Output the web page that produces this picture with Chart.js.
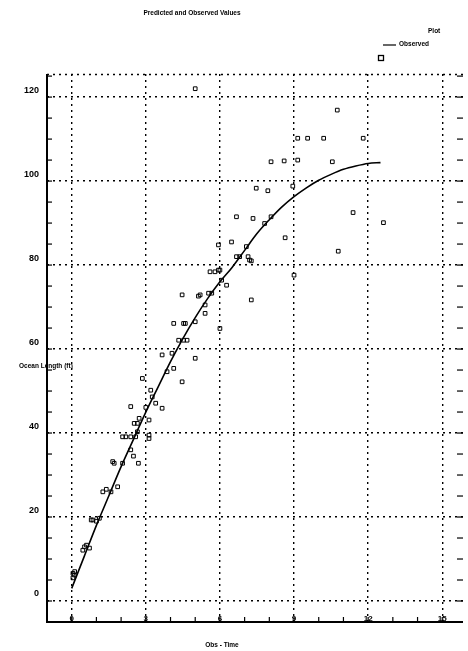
<!DOCTYPE html>
<html>
<head>
<meta charset="utf-8">
<script src="https://cdn.jsdelivr.net/npm/chart.js@4"></script>
<style>
html,body{margin:0;padding:0;background:#fff;}
#wrap{width:468px;height:651px;position:relative;}
</style>
</head>
<body>
<div id="wrap"><canvas id="c" width="468" height="651"></canvas></div>
<script>
// ---- data ----
const predX = [0,0.5,1,1.5,2,2.5,3,3.5,4,4.5,5,5.5,6,6.5,7,7.5,8,8.5,9,9.5,10,10.5,11,11.5,12,12.5];
const predY = [3,10.5,18,25,32,38.5,45,51,57,62.5,67.5,72,76,79.5,83.5,87.5,90.8,93.8,96.3,98.4,100.2,101.6,102.8,103.6,104.2,104.4];

const obsX = [0.05,0.05,0.12,0.1, 0.45,0.52,0.72,0.6, 0.79,0.86,1.12,1.0, 1.26,1.59,1.86,1.4,
  1.66,1.72,2.06,2.7,2.39,2.5, 2.06,2.19,2.39,2.59,3.13,3.13, 2.66,2.53,2.66,2.73,3.13,
  2.39,3.0,3.66, 3.4,3.26,3.2, 2.86,4.47, 3.86,4.13, 3.66,4.06,5.0, 4.33,4.53,4.67,
  4.13,4.53,4.6,5.0,6.0, 5.4,5.4, 4.47,5.13,5.2,5.54,5.67,7.27, 6.27,6.07,
  5.6,5.8,5.94,6.0,9.0, 7.27,7.14,6.67,6.8,7.2, 7.07,6.47,5.94, 8.64,10.79,
  7.81,12.62, 6.67,7.34,8.07,11.39, 7.47,7.94,8.95, 8.07,8.6,9.15,10.55,
  9.15,9.55,10.2,11.8, 10.75, 5.0];
const obsY = [5.5,6.6,7.0,6.2, 12.1,12.9,12.6,13.3, 19.3,19.3,19.7,19.0, 26.0,26.0,27.2,26.6,
  33.2,32.8,32.8,32.8,36.0,34.5, 39.1,39.1,39.1,39.1,38.7,39.5, 40.3,42.3,42.3,43.5,43.1,
  46.3,46.1,45.9, 47.1,48.6,50.2, 53.0,52.2, 54.6,55.4, 58.6,59.0,57.8, 62.1,62.1,62.1,
  66.1,66.1,66.1,66.5,64.9, 68.5,70.5, 72.9,72.6,72.9,73.3,73.3,71.7, 75.2,76.4,
  78.4,78.4,78.8,78.8,77.6, 81,82,82,82,81.2, 84.4,85.5,84.8, 86.5,83.3,
  89.9,90.1, 91.5,91.1,91.5,92.5, 98.3,97.7,98.8, 104.6,104.8,105,104.6,
  110.2,110.2,110.2,110.2, 116.9, 122];

const xTickValues = [0,3,6,9,12,15];
const yTickValues = [0,20,40,60,80,100,120];
const titleText = 'Predicted and Observed Values';
const legendTitle = 'Plot';
const legendLineLabel = 'Observed';
const xTitle = 'Obs - Time';
const yTitle = 'Ocean Length (ft)';

const FONT = '"Liberation Sans", Arial, sans-serif';

const lineData = predX.map((x,i)=>({x, y: predY[i]}));
const pointData = obsX.map((x,i)=>({x, y: obsY[i]}));

const decor = {
  id: 'decor',
  afterDraw(chart){
    const {ctx, chartArea:a, scales:{x,y}} = chart;
    ctx.save();
    ctx.strokeStyle = '#000';
    ctx.fillStyle = '#000';
    // top dotted border
    ctx.lineWidth = 1.4;
    ctx.setLineDash([2,4]);
    ctx.beginPath(); ctx.moveTo(a.left, a.top+0.5); ctx.lineTo(a.right, a.top+0.5); ctx.stroke();
    ctx.setLineDash([]);
    // axes
    ctx.lineWidth = 2;
    ctx.beginPath();
    ctx.moveTo(a.left, a.top); ctx.lineTo(a.left, a.bottom); ctx.lineTo(a.right, a.bottom);
    ctx.stroke();
    // minor ticks
    ctx.lineWidth = 1.2;
    for (let v = -1; v <= 15; v++) {
      const px = x.getPixelForValue(v);
      ctx.beginPath(); ctx.moveTo(px, a.bottom); ctx.lineTo(px, a.bottom - 5); ctx.stroke();
    }
    for (let v = -5; v <= 125; v += 5) {
      const py = y.getPixelForValue(v);
      ctx.beginPath(); ctx.moveTo(a.left, py); ctx.lineTo(a.left + 5, py); ctx.stroke();
      ctx.beginPath(); ctx.moveTo(a.right - 6, py); ctx.lineTo(a.right, py); ctx.stroke();
    }
    // x tick labels, sitting on the axis inside the plot
    ctx.font = 'bold 8px ' + FONT;
    ctx.textAlign = 'center';
    ctx.textBaseline = 'alphabetic';
    xTickValues.forEach(v => {
      ctx.fillText(String(v), x.getPixelForValue(v), a.bottom - 1);
    });
    // texts
    ctx.font = 'bold 6.5px ' + FONT;
    ctx.textBaseline = 'middle';
    ctx.textAlign = 'center';
    ctx.fillText(titleText, 192, 13);
    ctx.fillText(xTitle, 222, 645);
    ctx.textAlign = 'left';
    ctx.fillText(yTitle, 19, 366);
    ctx.fillText(legendTitle, 428, 31);
    ctx.fillText(legendLineLabel, 399, 44);
    ctx.lineWidth = 1.2;
    ctx.beginPath(); ctx.moveTo(383, 45); ctx.lineTo(396, 45); ctx.stroke();
    ctx.lineWidth = 1.3;
    ctx.strokeRect(378.5, 55.5, 5, 5);
    ctx.restore();
  }
};

new Chart(document.getElementById('c'), {
  type: 'scatter',
  data: {
    datasets: [
      {
        type: 'line',
        label: 'Predicted',
        data: lineData,
        borderColor: '#000',
        borderWidth: 1.6,
        pointRadius: 0,
        fill: false,
        tension: 0.3,
        cubicInterpolationMode: 'monotone'
      },
      {
        label: 'Observed',
        data: pointData,
        pointStyle: 'rect',
        pointRadius: 2.6,
        borderColor: '#000',
        borderWidth: 1,
        backgroundColor: 'rgba(0,0,0,0)'
      }
    ]
  },
  options: {
    responsive: false,
    animation: false,
    devicePixelRatio: 1,
    layout: { padding: { left: 0, right: 0, top: 74, bottom: 0 } },
    plugins: {
      legend: { display: false },
      title: { display: false },
      tooltip: { enabled: false }
    },
    scales: {
      x: {
        type: 'linear',
        min: -1,
        max: 15.84,
        afterBuildTicks: s => { s.ticks = xTickValues.map(v => ({ value: v })); },
        afterFit: s => { s.height = 29; },
        grid: { color: '#000', lineWidth: 1.4, drawTicks: false },
        border: { display: false, dash: [2,4] },
        ticks: { display: false }
      },
      y: {
        type: 'linear',
        min: -5,
        max: 125.5,
        afterBuildTicks: s => { s.ticks = yTickValues.map(v => ({ value: v })); },
        afterFit: s => { s.width = 47; },
        grid: { color: '#000', lineWidth: 1.4, drawTicks: false },
        border: { display: false, dash: [2,4] },
        ticks: { color: '#000', font: { family: FONT, size: 9, weight: 'bold' }, padding: 8, labelOffset: -7 }
      }
    }
  },
  plugins: [decor]
});
</script>
</body>
</html>
